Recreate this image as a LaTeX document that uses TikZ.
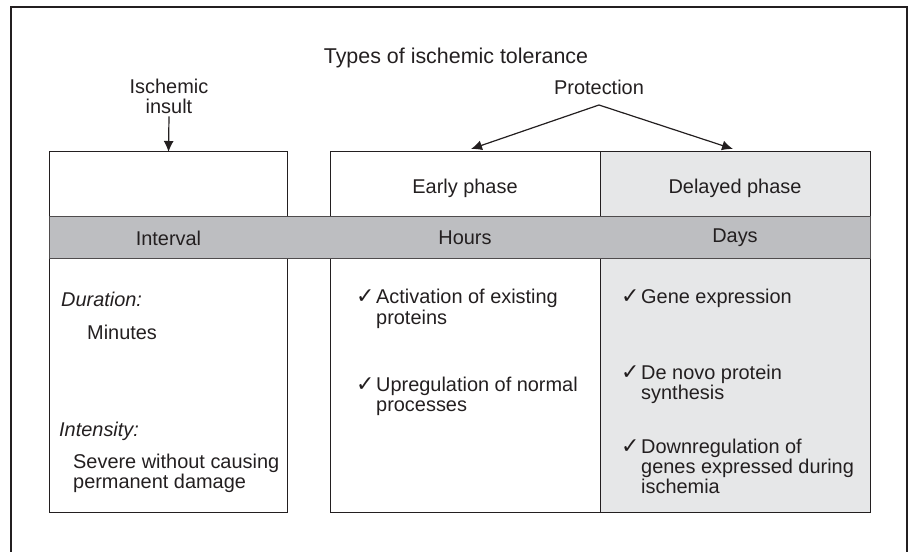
\documentclass[tikz,border=0pt]{standalone}
\usepackage{fontspec}
\setmainfont{Liberation Sans}
\newfontfamily\tickfont{DejaVu Sans}
\usetikzlibrary{arrows.meta}
\definecolor{ink}{HTML}{231F20}
\definecolor{bandgray}{HTML}{BDBEC1}
\definecolor{palegray}{HTML}{E6E7E8}
\newcommand\tickmark[1]{\makebox[#1][l]{{\tickfont\fontsize{22}{22}\selectfont ✓}}}
\tikzset{
  box/.style={draw=ink, line width=1bp, inner sep=0pt, outer sep=0pt},
  bodytext/.style={inner sep=0pt, text=ink, font=\fontsize{20}{20.5}\selectfont, align=left, anchor=north west},
  headtext/.style={inner sep=0pt, text=ink, font=\fontsize{20}{20.5}\selectfont},
  arrowline/.style={draw=ink, line width=1.2bp, -{Latex[length=11bp,width=10bp]}},
}
\begin{document}
\begin{tikzpicture}[x=1bp, y=-1bp]
  \useasboundingbox (0,0) rectangle (912,552);
  % outer frame, open at the bottom edge
  \draw[ink, line width=1.3bp] (11,556) -- (11,7) -- (907,7) -- (907,556);

  % columns
  \node[box, minimum width=237bp, minimum height=360bp] (interval) at (168.5,332) {};
  \node[box, minimum width=270bp, minimum height=360bp] (early) at (465,332) {};
  \node[box, fill=palegray, minimum width=270bp, minimum height=360bp] (delayed) at (735,332) {};

  % time band across all columns
  \node[draw=ink!80, line width=1bp, fill=bandgray, inner sep=0pt,
        minimum width=820bp, minimum height=42bp] (band) at (460,238) {};

  % headings
  \node[headtext, font=\fontsize{21.5}{22}\selectfont] (title) at (456,58) {Types of ischemic tolerance};
  \node[headtext, align=center, font=\fontsize{20}{20}\selectfont] (insult) at (169,96) {Ischemic\\insult};
  \node[headtext] (protect) at (599,87) {Protection};
  \node[headtext] (earlylbl) at (465,188) {Early phase};
  \node[headtext] (delaylbl) at (735,188) {Delayed phase};
  \node[headtext] (intlbl) at (168.5,238) {Interval};
  \node[headtext] (hours) at (465,238) {Hours};
  \node[headtext] (days) at (735,238) {Days};

  % connectors
  \coordinate (apex) at (599,105);
  \coordinate (tipE) at (471,149);
  \coordinate (tipD) at (733,149);
  \coordinate (insulttop) at ([yshift=-3bp]insult.south);
  \draw[arrowline] (apex) -- (tipE);
  \draw[arrowline] (apex) -- (tipD);
  \draw[arrowline] (insulttop) -- (interval.north);

  % interval column
  \node[bodytext, font=\fontsize{20}{20.5}\selectfont\itshape] (durlbl) at (61,291.5) {Duration:};
  \node[bodytext] (durval) at (87,324.5) {Minutes};
  \node[bodytext, font=\fontsize{20}{20.5}\selectfont\itshape] (intlblb) at (59,421.5) {Intensity:};
  \node[bodytext] (intval) at (73,453.5) {Severe without causing\\permanent damage};

  % early phase column
  \node[bodytext] (e1) at (356,289) {\tickmark{20bp}Activation of existing\\\hspace*{20bp}proteins};
  \node[bodytext] (e2) at (356,376.5) {\tickmark{20bp}Upregulation of normal\\\hspace*{20bp}processes};

  % delayed phase column
  \node[bodytext] (d1) at (621,289) {\tickmark{20bp}Gene expression};
  \node[bodytext] (d2) at (621,364.5) {\tickmark{20bp}De novo protein\\\hspace*{20bp}synthesis};
  \node[bodytext] (d3) at (621,438.5) {\tickmark{20bp}Downregulation of\\\hspace*{20bp}genes expressed during\\\hspace*{20bp}ischemia};
\end{tikzpicture}
\end{document}
